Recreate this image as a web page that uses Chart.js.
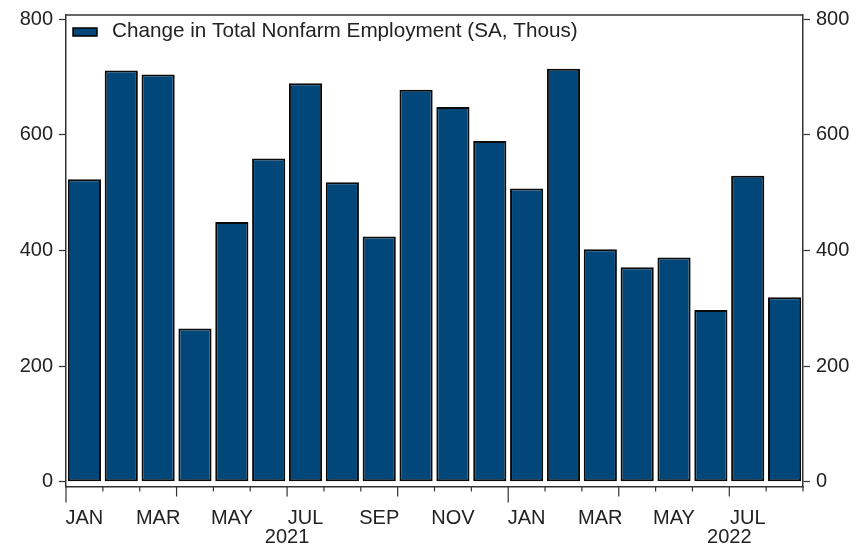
<!DOCTYPE html>
<html><head><meta charset="utf-8">
<script src="https://cdn.jsdelivr.net/npm/chart.js@4/dist/chart.umd.min.js"></script>
<style>html,body{margin:0;padding:0;background:#fff;}#wrap{width:863px;height:547px;position:relative}</style>
</head><body><div id="wrap"><canvas id="c" width="863" height="547"></canvas></div>
<script>
// ---- data ----
const months = ['JAN','FEB','MAR','APR','MAY','JUN','JUL','AUG','SEP','OCT','NOV','DEC',
                'JAN','FEB','MAR','APR','MAY','JUN','JUL','AUG'];
const monthYears = [2021,2021,2021,2021,2021,2021,2021,2021,2021,2021,2021,2021,
                    2022,2022,2022,2022,2022,2022,2022,2022];
const yearLabels = ['2021','2022'];
const payrollChanges = [523,711,704,265,449,559,689,518,424,678,648,589,
                        507,714,402,371,388,297,529,319];
const yTicks = [0,200,400,600,800];
const seriesLabel = 'Change in Total Nonfarm Employment (SA, Thous)';

const FONT = 'Liberation Sans, Arial, sans-serif';
const TXT = '#222';
const AX = '#333';
const BAR = '#02477A';

const framePlugin = {
  id: 'frame',
  afterDraw(chart) {
    const ctx = chart.ctx, a = chart.chartArea, xs = chart.scales.x;
    ctx.save();
    ctx.strokeStyle = AX; ctx.lineWidth = 1.5;
    // top border
    ctx.beginPath(); ctx.moveTo(a.left, a.top); ctx.lineTo(a.right, a.top); ctx.stroke();
    // month boundary ticks (longer each quarter / year)
    const n = months.length;
    const step = (xs.getPixelForValue(1) - xs.getPixelForValue(0));
    ctx.lineWidth = 1.2;
    for (let i = 0; i <= n; i++) {
      const px = xs.getPixelForValue(0) - step / 2 + i * step;
      let len = 5;
      if (i < n && i % 3 === 0) len = 10;
      if (i < n && i % 12 === 0) len = 16;
      ctx.beginPath(); ctx.moveTo(px, a.bottom); ctx.lineTo(px, a.bottom + len); ctx.stroke();
    }
    // year labels centred on each calendar year
    ctx.fillStyle = TXT; ctx.font = '20px ' + FONT;
    ctx.textAlign = 'center'; ctx.textBaseline = 'middle';
    yearLabels.forEach((y) => {
      const first = monthYears.indexOf(+y);
      const px = xs.getPixelForValue(first) - step / 2 + 6 * step;
      ctx.fillText(y, px, a.bottom + 51);
    });
    // legend inside the plot area
    const ds = chart.data.datasets[0];
    const bx = a.left + 7, by = a.top + 13;
    ctx.fillStyle = ds.backgroundColor;
    ctx.fillRect(bx, by, 24, 8);
    ctx.strokeStyle = '#000'; ctx.lineWidth = 1.5;
    ctx.strokeRect(bx, by, 24, 8);
    ctx.fillStyle = TXT; ctx.font = '20.7px ' + FONT;
    ctx.textAlign = 'left'; ctx.textBaseline = 'middle';
    ctx.fillText(ds.label, bx + 39, by + 3);
    ctx.restore();
  }
};

const yScale = (pos, w) => ({
  type: 'linear', position: pos, min: -8, max: 807,
  afterBuildTicks: s => { s.ticks = yTicks.map(v => ({ value: v })); },
  grid: { drawOnChartArea: false, drawTicks: true, tickLength: 7, color: AX, tickWidth: 1.2 },
  border: { display: true, color: AX, width: 1.5 },
  ticks: { padding: 6, color: TXT, font: { family: FONT, size: 20, lineHeight: 0.9 } },
  afterFit: s => { s.width = w; }
});

new Chart(document.getElementById('c'), {
  type: 'bar',
  data: {
    labels: months,
    datasets: [{
      label: seriesLabel,
      data: payrollChanges,
      backgroundColor: BAR,
      borderColor: '#0a0a0a',
      borderWidth: 2,
      borderSkipped: false,
      barPercentage: 0.9,
      categoryPercentage: 1.0,
      yAxisID: 'y'
    }]
  },
  options: {
    responsive: false, animation: false, devicePixelRatio: 1,
    layout: { padding: { top: 15, left: 0, right: 0, bottom: 0 } },
    plugins: {
      legend: { display: false },
      tooltip: { enabled: false }
    },
    scales: {
      x: {
        type: 'category', offset: true,
        grid: { display: false },
        border: { display: true, color: AX, width: 1.5 },
        ticks: { autoSkip: false, maxRotation: 0, minRotation: 0, padding: 12, color: TXT,
                 font: { family: FONT, size: 20 },
                 callback: (v, i) => (i % 2 === 0 ? months[i] : '') },
        afterFit: s => { s.height = 60.5; }
      },
      y: yScale('left', 66),
      y2: yScale('right', 60)
    }
  },
  plugins: [framePlugin]
});
</script></body></html>
